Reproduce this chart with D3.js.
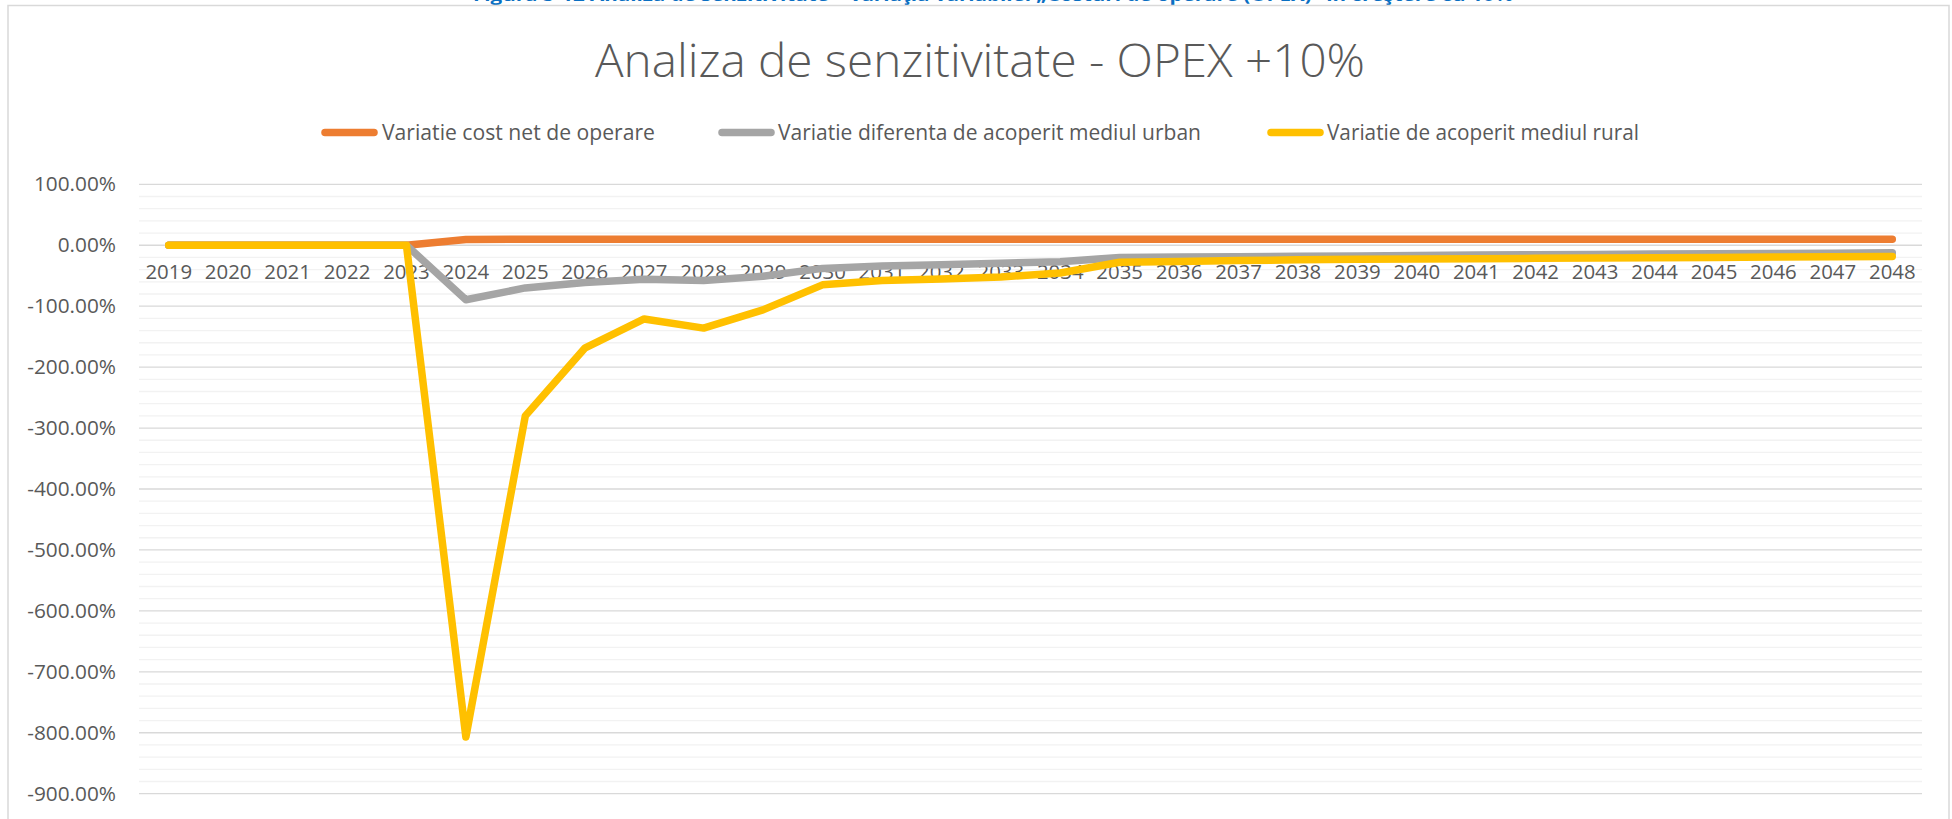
<!DOCTYPE html>
<html>
<head>
<meta charset="utf-8">
<script src="https://cdn.jsdelivr.net/npm/d3@7/dist/d3.min.js"></script>
<style>
  html, body { margin: 0; padding: 0; background: #ffffff; overflow: hidden; }
  svg { display: block; font-family: "Open Sans", "DejaVu Sans", sans-serif; }
</style>
</head>
<body>
<svg id="chart" width="1952" height="819"></svg>
<script>
// Categories (years)
const years = ["2019","2020","2021","2022","2023","2024","2025","2026","2027","2028",
               "2029","2030","2031","2032","2033","2034","2035","2036","2037","2038",
               "2039","2040","2041","2042","2043","2044","2045","2046","2047","2048"];

// Series values, in percent
const costNetOperare = [0, 0, 0, 0, 0, 9.5, 10, 10, 10, 10,
                        10, 10, 10, 10, 10, 10, 10, 10, 10, 10,
                        10, 10, 10, 10, 10, 10, 10, 10, 10, 10];
const diferentaUrban = [0, 0, 0, 0, 0, -89.5, -70, -61, -56, -58,
                        -51, -38, -34, -32, -29.5, -27, -20, -19.5, -19, -18,
                        -17.5, -17, -16, -15.5, -15, -14.5, -14, -13.5, -13, -12.5];
const acoperitRural  = [0, 0, 0, 0, 0, -807, -280, -169, -121, -136,
                        -106, -65, -58, -55.5, -52, -45.5, -28, -26.5, -25, -24,
                        -23, -22.5, -22, -21.5, -21, -20.5, -20, -19.5, -19, -18.5];

// Axis ticks
const yMajorTicks = [100, 0, -100, -200, -300, -400, -500, -600, -700, -800, -900];
const yMinorStep = 20;

const seriesNames = ["Variatie cost net de operare",
                     "Variatie diferenta de acoperit mediul urban",
                     "Variatie de acoperit mediul rural"];
const seriesColors = ["#ED7D31", "#A5A5A5", "#FFC000"];
const seriesValues = [costNetOperare, diferentaUrban, acoperitRural];

const chartTitle = "Analiza de senzitivitate - OPEX +10%";
const caption = "Figura 5-12 Analiza de senzitivitate – variaţia variabilei „Costuri de operare (OPEX)” în creştere cu 10%";

const svg = d3.select("#chart");
const textColor = "#595959";

// Figure caption above the chart frame (runs off the top of the page)
svg.append("text")
  .attr("x", 993).attr("y", 0.5)
  .attr("text-anchor", "middle")
  .attr("font-weight", "bold")
  .attr("font-size", 18)
  .attr("fill", "#0A6FC2")
  .attr("textLength", 1040)
  .attr("lengthAdjust", "spacingAndGlyphs")
  .text(caption);

// Chart frame
svg.append("rect")
  .attr("x", 8).attr("y", 5.5)
  .attr("width", 1941).attr("height", 840)
  .attr("fill", "#ffffff")
  .attr("stroke", "#D9D9D9")
  .attr("stroke-width", 1.5);

// Plot area
const plot = { left: 139, right: 1922, top: 184.3, bottom: 793.7 };

const x = d3.scaleBand().domain(years).range([plot.left, plot.right]).padding(0);
const y = d3.scaleLinear().domain([-900, 100]).range([plot.bottom, plot.top]);

// Minor gridlines
const minorTicks = d3.range(-900, 100 + 1e-9, yMinorStep).filter(v => v % 100 !== 0);
svg.append("g").selectAll("line").data(minorTicks).join("line")
  .attr("x1", plot.left).attr("x2", plot.right)
  .attr("y1", d => y(d)).attr("y2", d => y(d))
  .attr("stroke", "#F2F2F2").attr("stroke-width", 1.3);

// Major gridlines
svg.append("g").selectAll("line").data(yMajorTicks).join("line")
  .attr("x1", plot.left).attr("x2", plot.right)
  .attr("y1", d => y(d)).attr("y2", d => y(d))
  .attr("stroke", "#D9D9D9").attr("stroke-width", 1.3);

// Y axis labels
const fmtPct = v => (v < 0 ? "-" : "") + d3.format(".2f")(Math.abs(v)) + "%";
const yAxis = d3.axisLeft(y).tickValues(yMajorTicks).tickSize(0).tickPadding(0).tickFormat(fmtPct);
const gy = svg.append("g").attr("transform", "translate(116,0)").call(yAxis);
gy.select(".domain").remove();
gy.selectAll("text")
  .attr("font-family", "'Open Sans', sans-serif")
  .attr("font-size", 20.8)
  .attr("fill", textColor);

// X axis labels, placed just below the zero line
const xAxis = d3.axisBottom(x).tickSize(0).tickPadding(0);
const gx = svg.append("g").attr("transform", `translate(0,${y(0) + 19})`).call(xAxis);
gx.select(".domain").remove();
gx.selectAll("text")
  .attr("font-family", "'Open Sans', sans-serif")
  .attr("font-size", 20.4)
  .attr("fill", textColor);

// Series lines
const line = d3.line()
  .x((d, i) => x(years[i]) + x.bandwidth() / 2)
  .y(d => y(d));

seriesValues.forEach((vals, k) => {
  svg.append("path")
    .datum(vals)
    .attr("d", line)
    .attr("fill", "none")
    .attr("stroke", seriesColors[k])
    .attr("stroke-width", 7.5)
    .attr("stroke-linejoin", "round")
    .attr("stroke-linecap", "round");
});

// Title
svg.append("text")
  .attr("x", 980).attr("y", 77)
  .attr("text-anchor", "middle")
  .attr("font-size", 46)
  .attr("font-weight", 300)
  .attr("fill", textColor)
  .attr("textLength", 770)
  .attr("lengthAdjust", "spacingAndGlyphs")
  .text(chartTitle);

// Legend
const legendItems = [
  { sx: 325, tx: 382, tw: 273 },
  { sx: 722, tx: 778, tw: 423 },
  { sx: 1271, tx: 1327, tw: 312 }
];
const legendY = 132.5;
const lg = svg.append("g");
legendItems.forEach((it, k) => {
  lg.append("line")
    .attr("x1", it.sx).attr("x2", it.sx + 49)
    .attr("y1", legendY).attr("y2", legendY)
    .attr("stroke", seriesColors[k])
    .attr("stroke-width", 7.5)
    .attr("stroke-linecap", "round");
  lg.append("text")
    .attr("x", it.tx).attr("y", legendY)
    .attr("dy", "0.35em")
    .attr("font-size", 21)
    .attr("fill", textColor)
    .attr("textLength", it.tw)
    .attr("lengthAdjust", "spacingAndGlyphs")
    .text(seriesNames[k]);
});
</script>
</body>
</html>
